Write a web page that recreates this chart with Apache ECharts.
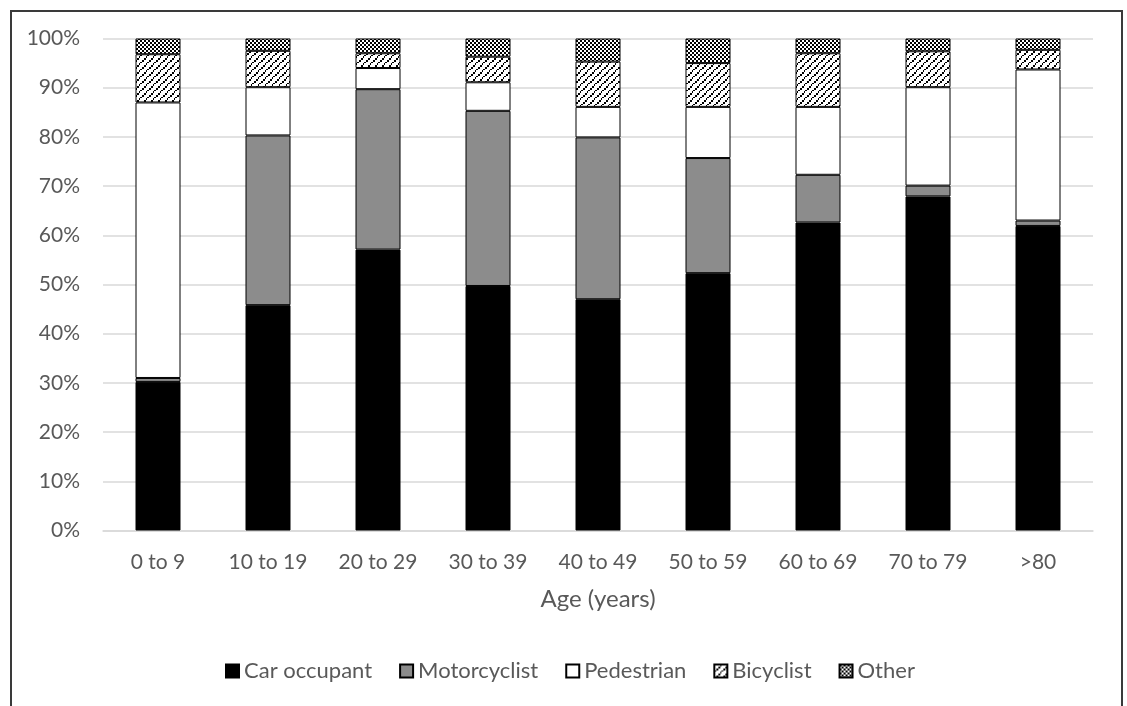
<!DOCTYPE html>
<html>
<head>
<meta charset="utf-8">
<script src="https://cdn.jsdelivr.net/npm/echarts@6/dist/echarts.min.js"></script>
<style>
html,body{margin:0;padding:0;background:#fff;}
#frame{position:absolute;left:10px;top:10px;width:1113px;height:720px;border:2px solid #3a3a3a;border-bottom:none;box-sizing:border-box;}
#chart{position:absolute;left:0;top:0;width:1127px;height:706px;}
</style>
</head>
<body>
<div id="frame"></div>
<div id="chart"></div>
<script>
const categories = ['0 to 9','10 to 19','20 to 29','30 to 39','40 to 49','50 to 59','60 to 69','70 to 79','>80'];
const carOccupant  = [30.2, 45.8, 57.1, 49.7, 47.0, 52.3, 62.6, 67.9, 61.9];
const motorcyclist = [0.8, 34.5, 32.6, 35.6, 32.9, 23.4, 9.7, 2.2, 1.1];
const pedestrian   = [56.0, 9.8, 4.3, 5.8, 6.2, 10.4, 13.8, 20.0, 30.7];
const bicyclist    = [9.8, 7.4, 3.0, 5.2, 9.2, 8.9, 10.9, 7.3, 4.0];
const other        = [3.2, 2.5, 3.0, 3.7, 4.7, 5.0, 3.0, 2.6, 2.3];
const yTicks = [0,10,20,30,40,50,60,70,80,90,100];

function stripePattern(){
  const c = document.createElement('canvas');
  c.width = 7; c.height = 7;
  const g = c.getContext('2d');
  g.fillStyle = '#fff'; g.fillRect(0,0,7,7);
  g.fillStyle = '#000';
  for (let i = 0; i < 7; i += 2) {
    g.fillRect(i, 6 - i, 2, 2);
  }
  return c;
}
function checkPattern(){
  const c = document.createElement('canvas');
  c.width = 4; c.height = 4;
  const g = c.getContext('2d');
  g.fillStyle = '#fff'; g.fillRect(0,0,4,4);
  g.fillStyle = '#000';
  g.fillRect(0,0,2,2); g.fillRect(2,2,2,2);
  return c;
}

const chart = echarts.init(document.getElementById('chart'));
const font = 'Lato, "Open Sans", sans-serif';
function bar(name, data, color){
  return {
    name: name, type: 'bar', stack: 'total', data: data, barWidth: 45,
    itemStyle: {color: color, borderColor: '#000', borderWidth: 1},
    emphasis: {disabled: true}
  };
}
chart.setOption({
  animation: false,
  textStyle: {fontFamily: font},
  grid: {left: 103, right: 34, top: 38.5, bottom: 175.5},
  xAxis: {
    type: 'category', data: categories,
    name: 'Age (years)', nameLocation: 'middle', nameGap: 57,
    nameTextStyle: {fontSize: 24, color: '#595959', fontFamily: font},
    axisLine: {lineStyle: {color: '#d9d9d9', width: 1.5}},
    axisTick: {show: false},
    axisLabel: {fontSize: 21, color: '#595959', margin: 21, fontFamily: font}
  },
  yAxis: {
    type: 'value', min: 0, max: 100, interval: 10,
    axisLabel: {fontSize: 21, color: '#595959', margin: 23, fontFamily: font,
      formatter: v => yTicks.includes(v) ? v + '%' : ''},
    splitLine: {lineStyle: {color: '#d9d9d9', width: 1.5}},
    axisLine: {show: false}, axisTick: {show: false}
  },
  legend: {
    top: 655, left: 220, itemWidth: 13, itemHeight: 13, itemGap: 27,
    icon: 'rect',
    textStyle: {fontSize: 22, color: '#595959', fontFamily: font},
    data: ['Car occupant','Motorcyclist','Pedestrian','Bicyclist','Other']
  },
  series: [
    bar('Car occupant', carOccupant, '#000'),
    bar('Motorcyclist', motorcyclist, '#8c8c8c'),
    bar('Pedestrian', pedestrian, '#fff'),
    bar('Bicyclist', bicyclist, {image: stripePattern(), repeat: 'repeat'}),
    bar('Other', other, {image: checkPattern(), repeat: 'repeat'})
  ]
});
</script>
</body>
</html>
